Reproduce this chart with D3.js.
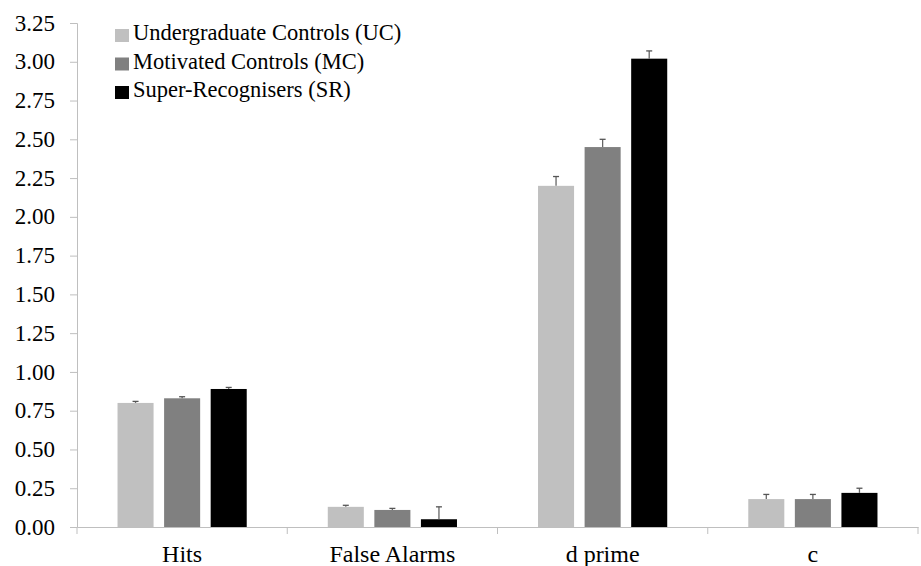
<!DOCTYPE html>
<html>
<head>
<meta charset="utf-8">
<script src="https://cdn.jsdelivr.net/npm/d3@7"></script>
</head>
<body style="margin:0">
<div id="chart"></div>
<script>
const categories = ["Hits", "False Alarms", "d prime", "c"];
const groups = ["Undergraduate Controls (UC)", "Motivated Controls (MC)", "Super-Recognisers (SR)"];
const ucValues = [0.80, 0.13, 2.20, 0.18];
const mcValues = [0.83, 0.11, 2.45, 0.18];
const srValues = [0.89, 0.05, 3.02, 0.22];
const ucErrors = [0.01, 0.01, 0.06, 0.03];
const mcErrors = [0.01, 0.01, 0.05, 0.03];
const srErrors = [0.01, 0.08, 0.05, 0.03];
const yTicks = [0, 0.25, 0.5, 0.75, 1, 1.25, 1.5, 1.75, 2, 2.25, 2.5, 2.75, 3, 3.25];
const colors = ["#c0c0c0", "#808080", "#000000"];

const values = [ucValues, mcValues, srValues];
const errors = [ucErrors, mcErrors, srErrors];
const fontName = "Times New Roman";

const width = 921, height = 566;
const margin = { top: 23, right: 3, bottom: 39, left: 77 };
const innerW = width - margin.left - margin.right;
const innerH = height - margin.top - margin.bottom;

const svg = d3.select("#chart").append("svg")
  .attr("width", width)
  .attr("height", height);

const g = svg.append("g").attr("transform", `translate(${margin.left},${margin.top})`);

const x0 = d3.scaleBand().domain(categories).range([0, innerW]).padding(0);
const x1 = d3.scaleBand().domain(groups).range([0, x0.bandwidth()])
  .paddingInner(0.226).paddingOuter(0.87);
const y = d3.scaleLinear().domain([0, 3.25]).range([innerH, 0]);

// y axis lines
const yAxis = g.append("g")
  .call(d3.axisLeft(y).tickValues(yTicks).tickFormat("").tickSize(7));
yAxis.selectAll("path, line").attr("stroke", "#bfbfbf");

// y tick labels
svg.selectAll(".ylab").data(yTicks).enter().append("text")
  .attr("class", "ylab")
  .attr("x", margin.left - 22)
  .attr("y", d => margin.top + y(d))
  .attr("dy", "0.33em")
  .attr("text-anchor", "end")
  .style("font-size", "23px")
  .style("font-family", fontName)
  .text(d3.format(".2f"));

// bars
const rows = categories.map((c, i) => ({ cat: c, items: groups.map((gr, j) => ({ group: gr, j, value: values[j][i], err: errors[j][i] })) }));

const cat = g.selectAll(".cat").data(rows).enter().append("g")
  .attr("class", "cat")
  .attr("transform", d => `translate(${x0(d.cat)},0)`);

cat.selectAll("rect").data(d => d.items).enter().append("rect")
  .attr("x", d => x1(d.group))
  .attr("y", d => y(d.value))
  .attr("width", x1.bandwidth())
  .attr("height", d => y(0) - y(d.value))
  .attr("fill", d => colors[d.j]);

// error bars (upper only)
const eb = cat.selectAll(".err").data(d => d.items).enter().append("g").attr("class", "err");
eb.append("line")
  .attr("x1", d => x1(d.group) + x1.bandwidth() / 2)
  .attr("x2", d => x1(d.group) + x1.bandwidth() / 2)
  .attr("y1", d => y(d.value))
  .attr("y2", d => y(d.value + d.err))
  .attr("stroke", "#666").attr("stroke-width", 1.3);
eb.append("line")
  .attr("x1", d => x1(d.group) + x1.bandwidth() / 2 - 3)
  .attr("x2", d => x1(d.group) + x1.bandwidth() / 2 + 3)
  .attr("y1", d => y(d.value + d.err))
  .attr("y2", d => y(d.value + d.err))
  .attr("stroke", "#555").attr("stroke-width", 1.3);

// x axis line
const xAxis = g.append("g")
  .attr("transform", `translate(0,${innerH})`)
  .call(d3.axisBottom(x0).tickSize(0).tickFormat(""));
xAxis.select(".domain").attr("stroke", "#bfbfbf");

// category boundary ticks
const bounds = categories.map(c => x0(c)).concat([innerW]);
xAxis.selectAll(".bound").data(bounds).enter().append("line")
  .attr("class", "bound")
  .attr("x1", d => d).attr("x2", d => d)
  .attr("y1", 0).attr("y2", 7)
  .attr("stroke", "#bfbfbf");

// category labels
svg.selectAll(".xlab").data(categories).enter().append("text")
  .attr("class", "xlab")
  .attr("x", d => margin.left + x0(d) + x0.bandwidth() / 2)
  .attr("y", margin.top + innerH + 35)
  .attr("text-anchor", "middle")
  .style("font-size", "24px")
  .style("font-family", fontName)
  .text(d => d);

// legend
const legend = svg.append("g").attr("transform", "translate(115,40)");
const item = legend.selectAll("g").data(groups).enter().append("g")
  .attr("transform", (d, i) => `translate(0,${i * 28.5})`);
item.append("rect")
  .attr("x", 0).attr("y", -11).attr("width", 14).attr("height", 13)
  .attr("fill", (d, i) => colors[i]);
item.append("text")
  .attr("x", 18).attr("y", 0)
  .style("font-size", "22.5px")
  .style("font-family", fontName)
  .text(d => d);
</script>
</body>
</html>
